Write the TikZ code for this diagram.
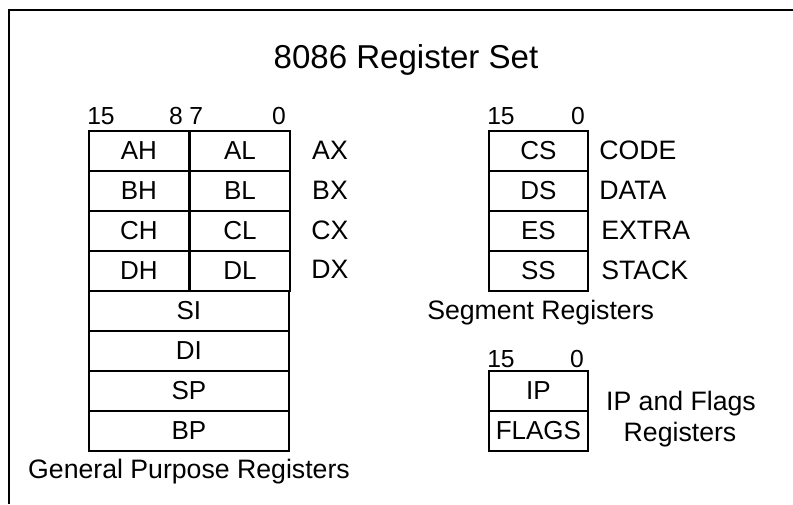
\documentclass[tikz,border=0pt]{standalone}
\usepackage{fontspec}
\setmainfont{Liberation Sans}
\begin{document}
\begin{tikzpicture}[x=0.75pt,y=-0.75pt,
  cell/.style={draw,line width=1.4pt,inner sep=0pt,minimum height=30pt,anchor=north west,font=\fontsize{19.5}{22}\selectfont},
  half/.style={cell,minimum width=75pt},
  full/.style={cell,minimum width=150pt},
  seg/.style={cell,minimum width=74.25pt},
  lbl/.style={inner sep=0pt,font=\fontsize{20}{23}\selectfont},
  bit/.style={inner sep=0pt,font=\fontsize{18.5}{20}\selectfont},
  ttl/.style={inner sep=0pt,font=\fontsize{24.8}{28}\selectfont}]
\useasboundingbox (0,0) rectangle (793,504);
\coordinate (fbl) at (9,504);
\coordinate (ftl) at (9,10);
\coordinate (ftr) at (793,10);
\draw[line width=1.6pt] (fbl) -- (ftl) -- (ftr);
\node[ttl,anchor=base] (title) at (406,68) {8086 Register Set};
% general purpose
\node[half] (AH) at (88,130) {AH};
\node[half] (AL) at (189,130) {AL};
\node[half] (BH) at (88,170) {BH};
\node[half] (BL) at (189,170) {BL};
\node[half] (CH) at (88,210) {CH};
\node[half] (CL) at (189,210) {CL};
\node[half] (DH) at (88,250) {DH};
\node[half] (DL) at (189,250) {DL};
\node[full] (SI) at (88,290) {SI};
\node[full] (DI) at (88,330) {DI};
\node[full] (SP) at (88,370) {SP};
\node[full] (BP) at (88,410) {BP};
\node[bit,anchor=base west] (g15) at (87,124) {15};
\node[bit,anchor=base east] (g8) at (183,124) {8};
\node[bit,anchor=base west] (g7) at (189,124) {7};
\node[bit,anchor=base east] (g0) at (286,124) {0};
\node[lbl,anchor=base] (AX) at (330,159) {AX};
\node[lbl,anchor=base] (BX) at (330,199) {BX};
\node[lbl,anchor=base] (CX) at (330,239) {CX};
\node[lbl,anchor=base] (DX) at (330,278) {DX};
\node[lbl,anchor=base] (gpr) at (189,478) {General Purpose Registers};
% segment
\node[seg] (CS) at (488,130) {CS};
\node[seg] (DS) at (488,170) {DS};
\node[seg] (ES) at (488,210) {ES};
\node[seg] (SS) at (488,250) {SS};
\node[bit,anchor=base west] (s15) at (487,124) {15};
\node[bit,anchor=base east] (s0) at (585,124) {0};
\node[lbl,anchor=base west] (code) at (599,159) {CODE};
\node[lbl,anchor=base west] (data) at (599,199) {DATA};
\node[lbl,anchor=base west] (extra) at (601,239) {EXTRA};
\node[lbl,anchor=base west] (stack) at (601,279) {STACK};
\node[lbl,anchor=base west] (segr) at (427,319) {Segment Registers};
% IP flags
\node[seg] (IP) at (488,370) {IP};
\node[seg] (FLAGS) at (488,410) {FLAGS};
\node[bit,anchor=base west] (i15) at (487,367) {15};
\node[bit,anchor=base east] (i0) at (584,367) {0};
\node[lbl,anchor=base] (ipf) at (681,410) {IP and Flags};
\node[lbl,anchor=base] (ipr) at (680,441) {Registers};
\end{tikzpicture}
\end{document}
